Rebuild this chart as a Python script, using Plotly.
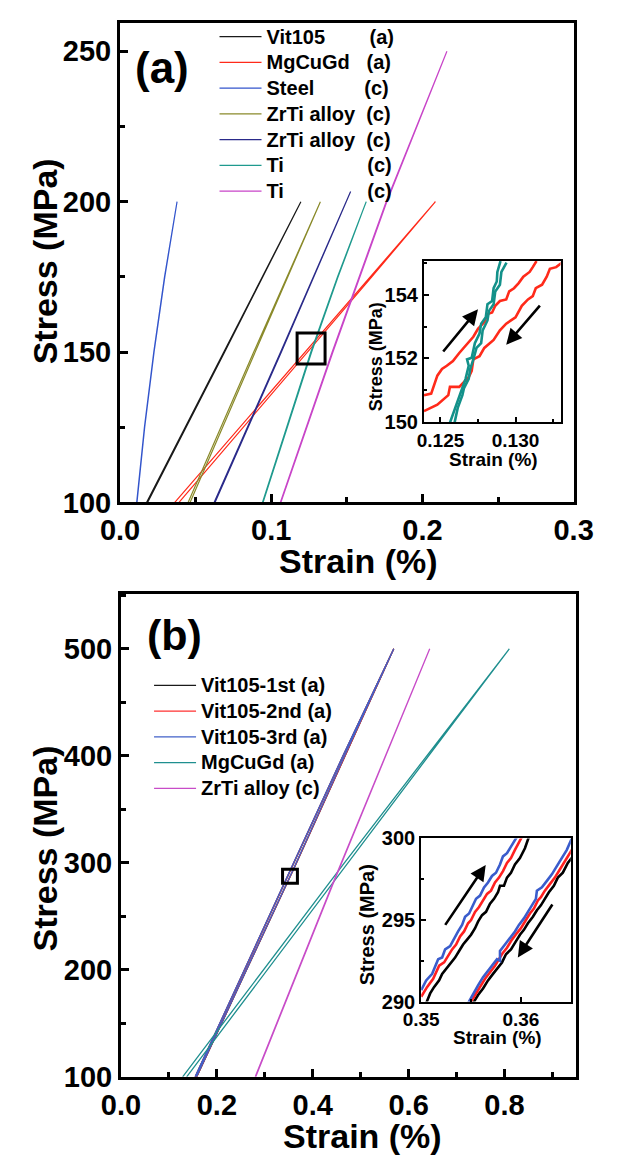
import plotly.graph_objects as go

W, H = 617, 1170
FONT = "Liberation Sans, Arial, Helvetica, sans-serif"

# ---------------- panel (a): stress (MPa) vs strain (%) ----------------
# each material: stress levels, strain on loading, strain on unloading
VIT105_A_STRESS = [100, 150, 200]
VIT105_A_LOAD = [0.0176, 0.0687, 0.1196]
VIT105_A_UNLOAD = [0.0182, 0.0692, 0.1196]

MGCUGD_A_STRESS = [100, 125, 150, 175, 200]
MGCUGD_A_LOAD = [0.0362, 0.0794, 0.1224, 0.1655, 0.2086]
MGCUGD_A_UNLOAD = [0.0390, 0.0815, 0.1240, 0.1665, 0.2086]

STEEL_A_STRESS = [100, 125, 150, 175, 200]
STEEL_A_LOAD = [0.0110, 0.0161, 0.0223, 0.0294, 0.0377]
STEEL_A_UNLOAD = [0.0112, 0.0163, 0.0225, 0.0296, 0.0377]

ZRTI1_A_STRESS = [100, 150, 200]
ZRTI1_A_LOAD = [0.0450, 0.0884, 0.1325]
ZRTI1_A_UNLOAD = [0.0463, 0.0893, 0.1325]

ZRTI2_A_STRESS = [100, 150, 203.4]
ZRTI2_A_LOAD = [0.0622, 0.1062, 0.1525]
ZRTI2_A_UNLOAD = [0.0628, 0.1067, 0.1525]

TI1_A_STRESS = [100, 125, 150, 175, 200]
TI1_A_LOAD = [0.0942, 0.1101, 0.1262, 0.1438, 0.1628]
TI1_A_UNLOAD = [0.0946, 0.1105, 0.1267, 0.1442, 0.1628]

TI2_A_STRESS = [100, 150, 200, 250]
TI2_A_LOAD = [0.1060, 0.1403, 0.1760, 0.2162]
TI2_A_UNLOAD = [0.1064, 0.1408, 0.1765, 0.2162]

A_LABELS = ["Vit105", "MgCuGd", "Steel", "ZrTi alloy", "ZrTi alloy", "Ti", "Ti"]
A_TAGS = ["(a)", "(a)", "(c)", "(c)", "(c)", "(c)", "(c)"]
A_PAD = [8, 3, 9, 2, 2, 15, 15]   # spaces between material and tag column
A_COLORS = ["#1a1a1a", "#ff2a1a", "#3355cc", "#8a8a2a", "#2a2a8a", "#1f9a8e", "#c845c8"]

# inset (a): magnified hysteresis near 150 MPa
INA_RED_LOAD_X = [0.12390, 0.12438, 0.12479, 0.12510, 0.12542, 0.12583, 0.12625, 0.12656,
                  0.12688, 0.12719, 0.12750, 0.12792, 0.12813, 0.12844, 0.12865, 0.12896,
                  0.12938, 0.12958, 0.12990, 0.13021, 0.13052, 0.13094, 0.13115, 0.13140]
INA_RED_LOAD_Y = [150.85, 150.90, 151.46, 151.67, 151.77, 151.92, 152.17, 152.33,
                  152.53, 152.68, 152.93, 153.14, 153.39, 153.44, 153.65, 153.80,
                  153.85, 154.10, 154.20, 154.36, 154.56, 154.71, 154.86, 155.05]
INA_RED_UNLOAD_X = [0.12390, 0.12479, 0.12552, 0.12563, 0.12625, 0.12688, 0.12708, 0.12719,
                    0.12760, 0.12792, 0.12854, 0.12896, 0.12938, 0.13000, 0.13042, 0.13083,
                    0.13115, 0.13135, 0.13177, 0.13208, 0.13229, 0.13271, 0.13310]
INA_RED_UNLOAD_Y = [150.35, 150.55, 150.85, 151.11, 151.11, 151.41, 151.61, 151.97,
                    152.07, 152.33, 152.58, 152.88, 153.09, 153.29, 153.65, 153.85,
                    153.95, 154.20, 154.31, 154.56, 154.81, 154.86, 155.00]
INA_TEAL1_X = [0.12560, 0.12604, 0.12635, 0.12667, 0.12688, 0.12677, 0.12708, 0.12729,
               0.12760, 0.12771, 0.12802, 0.12813, 0.12844, 0.12854, 0.12875, 0.12879, 0.12900]
INA_TEAL1_Y = [149.95, 150.55, 150.95, 151.36, 151.77, 151.97, 152.02, 152.48,
               152.78, 153.09, 153.29, 153.70, 153.80, 154.20, 154.41, 154.71, 155.05]
INA_TEAL2_X = [0.12592, 0.12615, 0.12646, 0.12656, 0.12688, 0.12698, 0.12719, 0.12740,
               0.12771, 0.12781, 0.12813, 0.12823, 0.12854, 0.12865, 0.12896, 0.12906, 0.12940]
INA_TEAL2_Y = [149.95, 150.45, 150.85, 151.06, 151.36, 151.67, 151.97, 152.33,
               152.48, 152.88, 153.19, 153.49, 153.70, 154.10, 154.31, 154.71, 155.00]
# arrows: (tail x, tail y, head x, head y)
INA_ARROW_UP = [0.12510, 152.17, 0.12750, 153.54]
INA_ARROW_DOWN = [0.13171, 153.70, 0.12938, 152.43]

# ---------------- panel (b) ----------------
VIT_B_STRESS = [100, 200, 295, 400, 500]
VIT1_B_LOAD = [0.1550, 0.2575, 0.3553, 0.4635, 0.5690]
VIT1_B_UNLOAD = [0.1580, 0.2620, 0.3610, 0.4670, 0.5690]
VIT2_B_LOAD = [0.1548, 0.2572, 0.3550, 0.4632, 0.5690]
VIT2_B_UNLOAD = [0.1577, 0.2617, 0.3607, 0.4667, 0.5690]
VIT3_B_LOAD = [0.1545, 0.2569, 0.3547, 0.4629, 0.5690]
VIT3_B_UNLOAD = [0.1574, 0.2614, 0.3604, 0.4664, 0.5690]

MGCUGD_B_STRESS = [100, 300, 500]
MGCUGD_B_LOAD = [0.1286, 0.4660, 0.8100]
MGCUGD_B_UNLOAD = [0.1370, 0.4740, 0.8100]

ZRTI_B_STRESS = [100, 280, 500]
ZRTI_B_LOAD = [0.2800, 0.4410, 0.6440]
ZRTI_B_UNLOAD = [0.2810, 0.4420, 0.6440]

B_LABELS = ["Vit105-1st (a)", "Vit105-2nd (a)", "Vit105-3rd (a)", "MgCuGd (a)", "ZrTi alloy (c)"]
B_COLORS = ["#1a1a1a", "#ff3030", "#4060c8", "#1f8f8f", "#c84cc8"]

# inset (b): magnified loops near 295 MPa for the three Vit105 cycles
INB_LOAD3_X = [0.3500, 0.3505, 0.3511, 0.3514, 0.3517, 0.3521, 0.3524, 0.3529, 0.3533, 0.3537,
               0.3541, 0.3544, 0.3548, 0.3552, 0.3555, 0.3559, 0.3563, 0.3567, 0.3571, 0.3575,
               0.3579, 0.3582, 0.3586, 0.3590, 0.3596]
INB_LOAD3_Y = [290.7, 291.3, 291.7, 292.2, 292.6, 292.7, 293.2, 293.4, 293.9, 294.3,
               294.7, 295.2, 295.4, 295.9, 296.3, 296.5, 297.0, 297.3, 297.7, 297.9,
               298.4, 298.9, 299.1, 299.5, 300.1]
INB_LOAD2_X = [0.3500, 0.3506, 0.3512, 0.3516, 0.3518, 0.3523, 0.3527, 0.3531, 0.3535, 0.3539,
               0.3543, 0.3547, 0.3550, 0.3554, 0.3558, 0.3562, 0.3566, 0.3570, 0.3574, 0.3578,
               0.3582, 0.3586, 0.3590, 0.3594, 0.3601]
INB_LOAD2_Y = [290.3, 290.9, 291.4, 291.9, 292.2, 292.4, 292.8, 293.2, 293.5, 294.0,
               294.3, 294.8, 295.0, 295.5, 295.8, 296.2, 296.6, 296.8, 297.3, 297.6,
               298.0, 298.5, 298.8, 299.3, 300.1]
INB_LOAD1_X = [0.3505, 0.3509, 0.3513, 0.3518, 0.3521, 0.3525, 0.3530, 0.3534, 0.3538, 0.3542,
               0.3546, 0.3550, 0.3554, 0.3557, 0.3561, 0.3565, 0.3569, 0.3573, 0.3577, 0.3579,
               0.3583, 0.3586, 0.3590, 0.3594, 0.3599, 0.3604, 0.3608]
INB_LOAD1_Y = [289.9, 290.5, 290.9, 291.3, 291.7, 292.0, 292.4, 292.7, 293.1, 293.5,
               293.8, 294.1, 294.5, 294.9, 295.3, 295.5, 296.0, 296.3, 296.7, 297.1,
               297.1, 297.6, 297.9, 298.4, 298.8, 299.4, 300.1]
INB_UNLOAD3_X = [0.3547, 0.3552, 0.3557, 0.3562, 0.3567, 0.3572, 0.3576, 0.3579, 0.3579, 0.3584,
                 0.3589, 0.3594, 0.3598, 0.3603, 0.3607, 0.3611, 0.3615, 0.3616, 0.3621, 0.3626,
                 0.3631, 0.3636, 0.3641, 0.3646, 0.3651]
INB_UNLOAD3_Y = [289.9, 290.5, 291.0, 291.5, 291.9, 292.3, 292.6, 292.5, 293.1, 293.5,
                 293.9, 294.3, 294.7, 295.1, 295.5, 295.9, 296.3, 296.8, 297.0, 297.4,
                 297.8, 298.3, 298.8, 299.3, 300.0]
INB_UNLOAD2_X = [0.3549, 0.3554, 0.3559, 0.3564, 0.3569, 0.3574, 0.3578, 0.3582, 0.3586, 0.3591,
                 0.3596, 0.3600, 0.3605, 0.3609, 0.3613, 0.3617, 0.3620, 0.3624, 0.3629, 0.3634,
                 0.3639, 0.3644, 0.3649, 0.3653]
INB_UNLOAD2_Y = [289.9, 290.4, 290.9, 291.4, 291.8, 292.2, 292.6, 293.0, 293.3, 293.8,
                 294.2, 294.5, 295.0, 295.4, 295.7, 296.2, 296.4, 296.8, 297.2, 297.6,
                 298.1, 298.6, 299.1, 299.5]
INB_UNLOAD1_X = [0.3552, 0.3557, 0.3562, 0.3567, 0.3572, 0.3577, 0.3581, 0.3585, 0.3590, 0.3594,
                 0.3599, 0.3603, 0.3607, 0.3612, 0.3616, 0.3620, 0.3624, 0.3628, 0.3633, 0.3637,
                 0.3642, 0.3647, 0.3652]
INB_UNLOAD1_Y = [289.9, 290.4, 290.8, 291.3, 291.7, 292.1, 292.4, 292.9, 293.2, 293.6,
                 294.1, 294.4, 294.8, 295.2, 295.6, 295.9, 296.3, 296.7, 297.1, 297.6,
                 297.9, 298.5, 298.9]
INB_ARROW_UP = [0.35231, 294.61, 0.35647, 298.38]
INB_ARROW_DOWN = [0.36325, 296.04, 0.35969, 292.71]

# rectangles marking the magnified regions: x0, x1, y0, y1
BOX_A = [0.1171, 0.1356, 146.0, 156.3]
BOX_B = [0.337, 0.368, 281.0, 294.0]

# ---------------- layout geometry (pixels) ----------------
MAIN_A = dict(l=107, r=592, t=12, b=503)
INSET_A = dict(l=432, r=578, t=256, b=421)
MAIN_B = dict(l=108, r=595, t=597, b=1091)
INSET_B = dict(l=429, r=589, t=847, b=1014)

LEGEND_SIZE = 17.5      # sets the row pitch of the legend
LEGEND_TEXT = 20        # glyph size of the legend entries


def xdom(box):
    return [box["l"] / W, box["r"] / W]


def ydom(box):
    return [1 - box["b"] / H, 1 - box["t"] / H]


def loop(stress, load, unload):
    xs = list(load) + list(reversed(unload))
    ys = list(stress) + list(reversed(stress))
    return xs, ys


def big(text):
    return '<span style="font-size:%dpx">%s</span>' % (LEGEND_TEXT, text)


fig = go.Figure()

# panel (a) curves
a_series = [
    (VIT105_A_STRESS, VIT105_A_LOAD, VIT105_A_UNLOAD),
    (MGCUGD_A_STRESS, MGCUGD_A_LOAD, MGCUGD_A_UNLOAD),
    (STEEL_A_STRESS, STEEL_A_LOAD, STEEL_A_UNLOAD),
    (ZRTI1_A_STRESS, ZRTI1_A_LOAD, ZRTI1_A_UNLOAD),
    (ZRTI2_A_STRESS, ZRTI2_A_LOAD, ZRTI2_A_UNLOAD),
    (TI1_A_STRESS, TI1_A_LOAD, TI1_A_UNLOAD),
    (TI2_A_STRESS, TI2_A_LOAD, TI2_A_UNLOAD),
]
for (s, ld, ul), name, tag, pad, col in zip(a_series, A_LABELS, A_TAGS, A_PAD, A_COLORS):
    xs, ys = loop(s, ld, ul)
    fig.add_trace(go.Scatter(
        x=xs, y=ys, mode="lines", line=dict(color=col, width=1.2),
        name=big(name + "\u00a0" * pad + tag), legend="legend",
        xaxis="x", yaxis="y"))

# inset (a)
for xs, ys, col in [
    (INA_RED_LOAD_X, INA_RED_LOAD_Y, "#ff2a1a"),
    (INA_RED_UNLOAD_X, INA_RED_UNLOAD_Y, "#ff2a1a"),
    (INA_TEAL1_X, INA_TEAL1_Y, "#13918a"),
    (INA_TEAL2_X, INA_TEAL2_Y, "#13918a"),
]:
    fig.add_trace(go.Scatter(x=xs, y=ys, mode="lines", line=dict(color=col, width=2.6),
                             showlegend=False, xaxis="x2", yaxis="y2"))

# panel (b) curves
b_series = [
    (VIT_B_STRESS, VIT1_B_LOAD, VIT1_B_UNLOAD),
    (VIT_B_STRESS, VIT2_B_LOAD, VIT2_B_UNLOAD),
    (VIT_B_STRESS, VIT3_B_LOAD, VIT3_B_UNLOAD),
    (MGCUGD_B_STRESS, MGCUGD_B_LOAD, MGCUGD_B_UNLOAD),
    (ZRTI_B_STRESS, ZRTI_B_LOAD, ZRTI_B_UNLOAD),
]
for (s, ld, ul), name, col in zip(b_series, B_LABELS, B_COLORS):
    xs, ys = loop(s, ld, ul)
    fig.add_trace(go.Scatter(
        x=xs, y=ys, mode="lines", line=dict(color=col, width=1.3),
        name=big(name), legend="legend2", xaxis="x3", yaxis="y3"))

# inset (b)
for xs, ys, col in [
    (INB_LOAD1_X, INB_LOAD1_Y, "#000000"),
    (INB_UNLOAD1_X, INB_UNLOAD1_Y, "#000000"),
    (INB_LOAD2_X, INB_LOAD2_Y, "#ff2020"),
    (INB_UNLOAD2_X, INB_UNLOAD2_Y, "#ff2020"),
    (INB_LOAD3_X, INB_LOAD3_Y, "#3a5ccc"),
    (INB_UNLOAD3_X, INB_UNLOAD3_Y, "#3a5ccc"),
]:
    fig.add_trace(go.Scatter(x=xs, y=ys, mode="lines", line=dict(color=col, width=2.6),
                             showlegend=False, xaxis="x4", yaxis="y4"))


def tfont(size):
    return dict(family=FONT, size=size, color="black", weight="bold")


def axis(box, which, rng, tick0, dtick, minor_dtick, fmt, size, lw, tl, mtl, anchor):
    return dict(
        domain=xdom(box) if which == "x" else ydom(box),
        range=rng, anchor=anchor, showgrid=False, zeroline=False,
        showline=True, linecolor="black", linewidth=lw, mirror=True,
        ticks="inside", ticklen=tl, tickwidth=lw, tickcolor="black",
        tick0=tick0, dtick=dtick, tickformat=fmt,
        tickfont=tfont(size),
        minor=dict(ticks="inside", ticklen=mtl, tickwidth=lw, tickcolor="black",
                   dtick=minor_dtick, showgrid=False),
    )


legend_font = dict(family=FONT, size=LEGEND_SIZE, color="black", weight="bold")

fig.update_layout(
    width=W, height=H, margin=dict(l=0, r=0, t=0, b=0),
    paper_bgcolor="white", plot_bgcolor="white",
    font=dict(family=FONT, color="black"),
    xaxis=axis(MAIN_A, "x", [0, 0.3], 0, 0.1, 0.05, ".1f", 29, 3, 8, 5, "y"),
    yaxis=axis(MAIN_A, "y", [100, 259.5], 100, 50, 25, "d", 29, 3, 8, 5, "x"),
    xaxis2=axis(INSET_A, "x", [0.1239, 0.1330], 0.125, 0.005, 0.0025, ".3f", 19, 2, 5, 3, "y2"),
    yaxis2=axis(INSET_A, "y", [150, 155.05], 150, 2, 1, "d", 20, 2, 5, 3, "x2"),
    xaxis3=axis(MAIN_B, "x", [0, 0.95], 0, 0.2, 0.1, ".1f", 29, 3, 8, 5, "y3"),
    yaxis3=axis(MAIN_B, "y", [100, 551], 100, 100, 50, "d", 29, 3, 8, 5, "x3"),
    xaxis4=axis(INSET_B, "x", [0.35, 0.365], 0.35, 0.01, 0.005, ".2f", 19, 2, 5, 3, "y4"),
    yaxis4=axis(INSET_B, "y", [290, 300], 290, 5, 2.5, "d", 20, 2, 5, 3, "x4"),
    legend=dict(x=208 / W, y=1 - 8 / H, xanchor="left", yanchor="top",
                bgcolor="rgba(0,0,0,0)", borderwidth=0, itemwidth=42,
                font=legend_font, tracegroupgap=0, itemclick=False),
    legend2=dict(x=138 / W, y=1 - 672 / H, xanchor="left", yanchor="top",
                 bgcolor="rgba(0,0,0,0)", borderwidth=0, itemwidth=42,
                 font=legend_font, tracegroupgap=0, itemclick=False),
    showlegend=True,
)

# marker rectangles
for bx, xr, yr in [(BOX_A, "x", "y"), (BOX_B, "x3", "y3")]:
    fig.add_shape(type="rect", xref=xr, yref=yr, x0=bx[0], x1=bx[1], y0=bx[2], y1=bx[3],
                  line=dict(color="black", width=3), fillcolor="rgba(0,0,0,0)")

# loading / unloading arrows in the insets
for arr, xr, yr in [(INA_ARROW_UP, "x2", "y2"), (INA_ARROW_DOWN, "x2", "y2"),
                    (INB_ARROW_UP, "x4", "y4"), (INB_ARROW_DOWN, "x4", "y4")]:
    fig.add_annotation(x=arr[2], y=arr[3], ax=arr[0], ay=arr[1], xref=xr, yref=yr,
                       axref=xr, ayref=yr, text="", showarrow=True, arrowhead=2,
                       arrowsize=1.2, arrowwidth=2.6, arrowcolor="black")


def label(text, px, py, size, angle=0):
    fig.add_annotation(text=text, x=px / W, y=1 - py / H, xref="paper", yref="paper",
                       xanchor="center", yanchor="middle", showarrow=False,
                       textangle=angle, font=tfont(size))


label("(a)", 152, 58, 44)
label("(b)", 165, 639, 43)
label("Stress (MPa)", 27, 256, 34, -90)
label("Strain (%)", 362, 563, 34)
label("Stress (MPa)", 27, 857, 34, -90)
label("Strain (%)", 366, 1152, 34)
label("Stress (MPa)", 380, 354, 18, -90)
label("Strain (%)", 506, 459, 19)
label("Stress (MPa)", 372, 935, 20, -90)
label("Strain (%)", 511, 1051, 19)

# the figure fills the page exactly, so drop the default body margin
fig.write_html("out.html",
               post_script="document.body.style.margin='0';"
                           "document.body.style.overflow='hidden';")
